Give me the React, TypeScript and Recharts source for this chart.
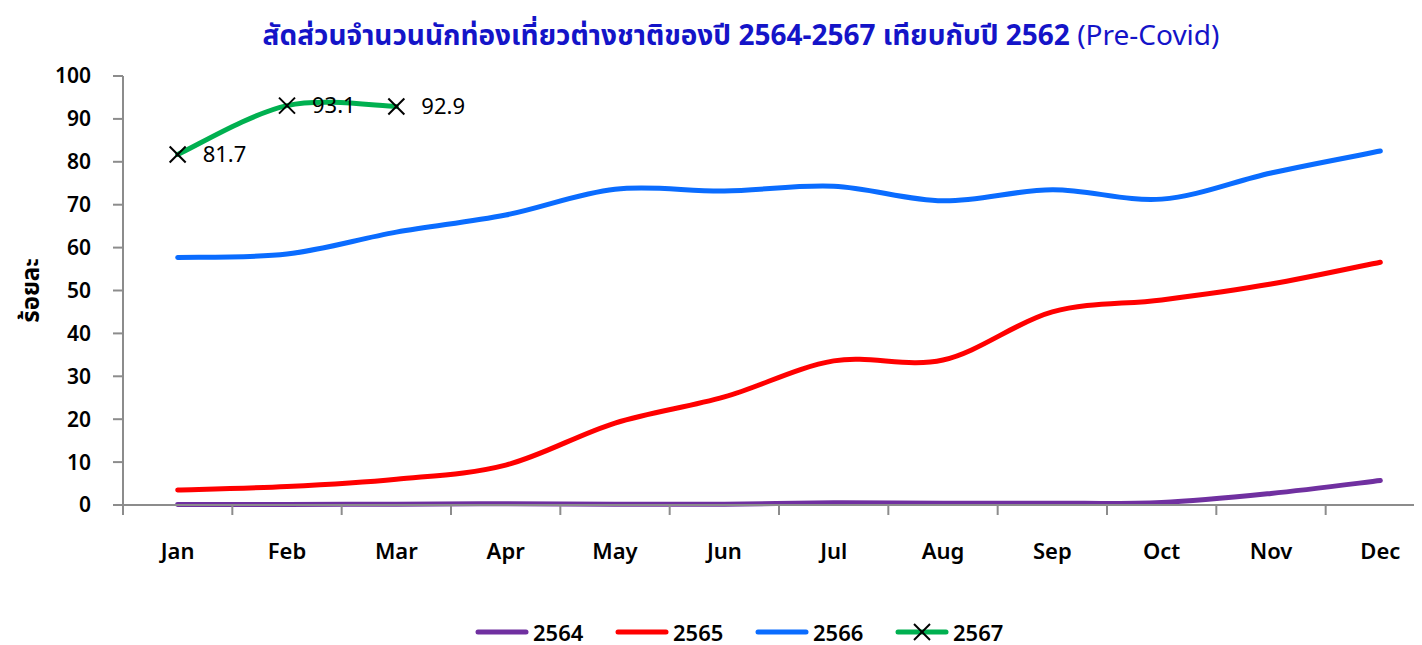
import React from 'react';
import { LineChart, Line, XAxis, YAxis } from 'recharts';

const months = ['Jan', 'Feb', 'Mar', 'Apr', 'May', 'Jun', 'Jul', 'Aug', 'Sep', 'Oct', 'Nov', 'Dec'];
const y2564 = [0.1, 0.1, 0.2, 0.3, 0.2, 0.2, 0.5, 0.4, 0.4, 0.6, 2.7, 5.7];
const y2565 = [3.5, 4.3, 6.0, 9.3, 19.1, 25.2, 33.6, 33.8, 45.0, 47.8, 51.5, 56.6];
const y2566 = [57.7, 58.5, 63.6, 67.6, 73.6, 73.2, 74.3, 70.9, 73.5, 71.3, 77.4, 82.5];
const y2567 = [81.7, 93.1, 92.9];
const yTicks = [0, 10, 20, 30, 40, 50, 60, 70, 80, 90, 100];

const chartData = months.map((m, i) => ({
  month: m,
  s2564: y2564[i],
  s2565: y2565[i],
  s2566: y2566[i],
  s2567: i < y2567.length ? y2567[i] : null,
}));

const FONT = '"Noto Sans", "Noto Sans Thai", Tahoma, sans-serif';
const CHART_W = 1440;
const CHART_H = 585;
const X_H = 30;
const MARGIN = { top: 16, right: 13, bottom: 140 - X_H, left: 0 };
const Y_W = 115;
const BAND = (CHART_W - MARGIN.right - MARGIN.left - Y_W) / months.length;
const AXIS = '#8c8c8c';

const legendItems = [
  { name: '2564', color: '#7030A0', marker: false },
  { name: '2565', color: '#FF0000', marker: false },
  { name: '2566', color: '#0A6CFF', marker: false },
  { name: '2567', color: '#00B050', marker: true },
];

// Excel-like smoothing (cardinal spline)
function excelCurve(context: any) {
  let pts: number[][] = [];
  const k = 1 / 6;
  return {
    areaStart() {},
    areaEnd() {},
    lineStart() {
      pts = [];
    },
    point(x: number, y: number) {
      pts.push([+x, +y]);
    },
    lineEnd() {
      if (!pts.length) return;
      context.moveTo(pts[0][0], pts[0][1]);
      for (let i = 0; i < pts.length - 1; i++) {
        const p0 = pts[i - 1] || pts[i];
        const p1 = pts[i];
        const p2 = pts[i + 1];
        const p3 = pts[i + 2] || p2;
        context.bezierCurveTo(
          p1[0] + k * (p2[0] - p0[0]),
          p1[1] + k * (p2[1] - p0[1]),
          p2[0] - k * (p3[0] - p1[0]),
          p2[1] - k * (p3[1] - p1[1]),
          p2[0],
          p2[1]
        );
      }
    },
  };
}

function XTick(props: any) {
  const { x, y, payload, index } = props;
  return (
    <g>
      <line x1={x - BAND / 2} x2={x - BAND / 2} y1={y - 8} y2={y + 2} stroke={AXIS} strokeWidth={2} />
      {index === months.length - 1 && (
        <line x1={x + BAND / 2} x2={x + BAND / 2} y1={y - 8} y2={y + 2} stroke={AXIS} strokeWidth={2} />
      )}
      <text x={x} y={y + 38} textAnchor="middle" dy="0.35em" fontSize={22} fontWeight={600} fill="#000" fontFamily={FONT}>
        {payload.value}
      </text>
    </g>
  );
}

function CrossDot(props: any) {
  const { cx, cy, value } = props;
  if (value == null || cx == null) return null;
  const s = 8;
  return (
    <g>
      <line x1={cx - s} y1={cy - s} x2={cx + s} y2={cy + s} stroke="#000" strokeWidth={2} />
      <line x1={cx - s} y1={cy + s} x2={cx + s} y2={cy - s} stroke="#000" strokeWidth={2} />
      <text x={cx + 25} y={cy} dy="0.35em" fontSize={22} fill="#000" fontFamily={FONT}>
        {value.toFixed(1)}
      </text>
    </g>
  );
}

function ChartLegend() {
  return (
    <div
      style={{
        position: 'absolute',
        top: 557,
        left: 466,
        width: 600,
        display: 'flex',
        fontFamily: FONT,
        fontSize: 22,
        fontWeight: 600,
        alignItems: 'center',
        whiteSpace: 'nowrap',
        lineHeight: '30px',
      }}
    >
      {legendItems.map((it) => (
        <div key={it.name} style={{ display: 'flex', alignItems: 'center', flexShrink: 0, width: 140 }}>
          <svg width={56} height={26} style={{ flexShrink: 0 }}>
            <line x1={4} x2={52} y1={13} y2={13} stroke={it.color} strokeWidth={5} strokeLinecap="round" />
            {it.marker && (
              <g>
                <line x1={20} y1={5} x2={36} y2={21} stroke="#000" strokeWidth={2} />
                <line x1={20} y1={21} x2={36} y2={5} stroke="#000" strokeWidth={2} />
              </g>
            )}
          </svg>
          <span style={{ marginLeft: 3, flexShrink: 0 }}>{it.name}</span>
        </div>
      ))}
    </div>
  );
}

export default function App() {
  return (
    <div style={{ width: 1414, overflow: 'hidden', fontFamily: FONT }}>
      <div
        style={{
          height: 52,
          lineHeight: '52px',
          textAlign: 'center',
          paddingLeft: 52,
          color: '#1414C8',
          fontSize: 28,
          fontWeight: 700,
          whiteSpace: 'nowrap',
        }}
      >
        สัดส่วนจำนวนนักท่องเที่ยวต่างชาติของปี 2564-2567 เทียบกับปี 2562{' '}
        <span style={{ fontWeight: 400 }}>(Pre-Covid)</span>
      </div>
      <div style={{ position: 'relative', width: CHART_W, height: CHART_H }}>
        <LineChart width={CHART_W} height={CHART_H} data={chartData} margin={MARGIN}>
          <XAxis
            dataKey="month"
            height={X_H}
            axisLine={{ stroke: AXIS, strokeWidth: 2 }}
            tickLine={false}
            tick={<XTick />}
            interval={0}
            padding={{ left: BAND / 2, right: BAND / 2 }}
          />
          <YAxis
            width={Y_W}
            domain={[0, 100]}
            ticks={yTicks}
            interval={0}
            axisLine={{ stroke: AXIS, strokeWidth: 2 }}
            tickLine={{ stroke: AXIS, strokeWidth: 2 }}
            tickSize={10}
            tickMargin={22}
            tick={{ fontSize: 21, fontWeight: 600, fill: '#000', fontFamily: FONT }}
            label={{
              value: 'ร้อยละ',
              angle: -90,
              position: 'insideLeft',
              offset: 22,
              style: { fontSize: 24, fontWeight: 700, fill: '#000', fontFamily: FONT, textAnchor: 'middle' },
            }}
          />
          <Line type={excelCurve as any} dataKey="s2564" stroke="#7030A0" strokeWidth={5} dot={false} isAnimationActive={false} strokeLinecap="round" />
          <Line type={excelCurve as any} dataKey="s2565" stroke="#FF0000" strokeWidth={5} dot={false} isAnimationActive={false} strokeLinecap="round" />
          <Line type={excelCurve as any} dataKey="s2566" stroke="#0A6CFF" strokeWidth={5} dot={false} isAnimationActive={false} strokeLinecap="round" />
          <Line
            type={excelCurve as any}
            dataKey="s2567"
            stroke="#00B050"
            strokeWidth={5}
            dot={<CrossDot />}
            activeDot={false}
            isAnimationActive={false}
            strokeLinecap="round"
          />
        </LineChart>
        <ChartLegend />
      </div>
    </div>
  );
}
